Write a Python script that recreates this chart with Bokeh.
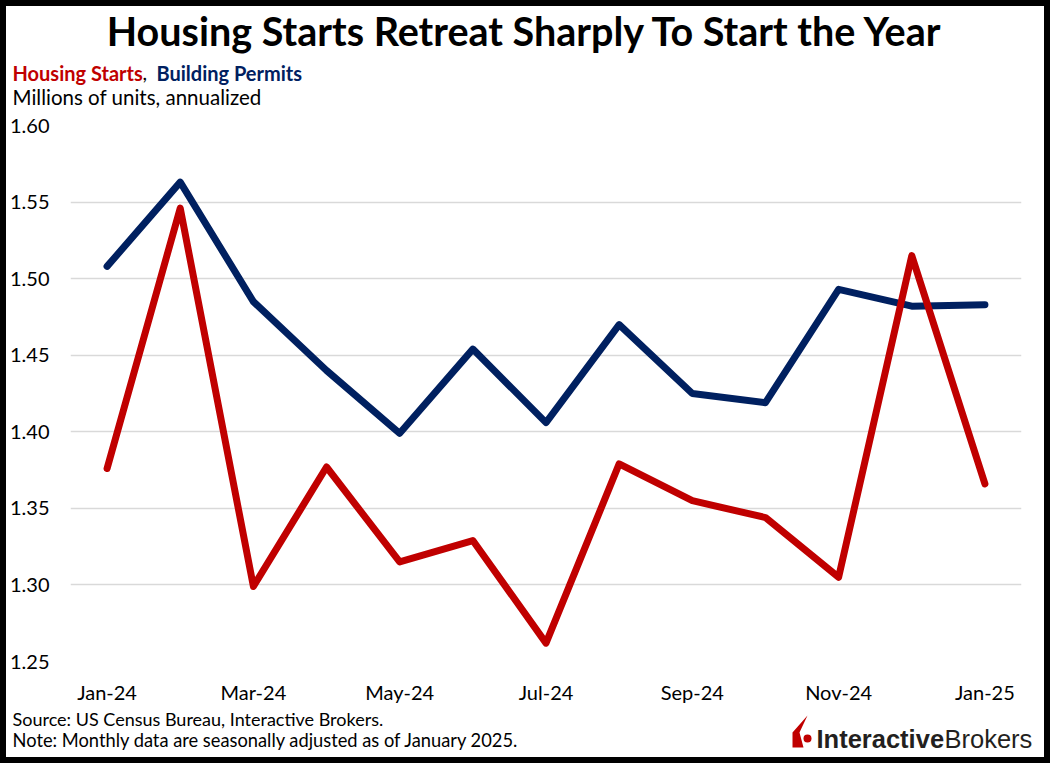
from bokeh.plotting import figure
from bokeh.models import FixedTicker, Range1d, CustomJSTickFormatter, Spacer
from bokeh.layouts import column, row
from bokeh.core.properties import value
from bokeh.embed import file_html
from bokeh.resources import INLINE

months = ["Jan-24", "Feb-24", "Mar-24", "Apr-24", "May-24", "Jun-24", "Jul-24",
          "Aug-24", "Sep-24", "Oct-24", "Nov-24", "Dec-24", "Jan-25"]
housing_starts = [1.376, 1.546, 1.299, 1.377, 1.315, 1.329, 1.262,
                  1.379, 1.355, 1.344, 1.305, 1.515, 1.366]
building_permits = [1.508, 1.563, 1.485, 1.440, 1.399, 1.454, 1.406,
                    1.470, 1.425, 1.419, 1.493, 1.482, 1.483]
y_ticks = [1.25, 1.30, 1.35, 1.40, 1.45, 1.50, 1.55, 1.60]
x_tick_labels = ["Jan-24", "Mar-24", "May-24", "Jul-24", "Sep-24", "Nov-24", "Jan-25"]

title = "Housing Starts Retreat Sharply To Start the Year"
series_names = ["Housing Starts", "Building Permits"]
unit_note = "Millions of units, annualized"
source_note = "Source: US Census Bureau, Interactive Brokers."
data_note = "Note: Monthly data are seasonally adjusted as of January 2025."

RED = "#C00000"
NAVY = "#002060"
FONT = "Lato"
LOGO_FONT = "Liberation Sans"
K = {FONT: 0.387, LOGO_FONT: 0.347}   # baseline correction factor per font
B = 6            # outer black border
W, H = 1050, 763
IW = W - 2 * B
HEAD_BOTTOM = 112
MAIN_BOTTOM = 706
FL, FR, FT, FB = 68, 1021, 125, 661


def blank(height, y0, y1):
    f = figure(width=IW, height=height, output_backend="svg", toolbar_location=None,
               x_range=Range1d(B, W - B), y_range=Range1d(y1, y0),
               min_border=0, min_border_left=0, min_border_right=0,
               min_border_top=0, min_border_bottom=0,
               x_axis_type=None, y_axis_type=None, frame_align=False)
    f.outline_line_color = None
    f.grid.visible = False
    f.background_fill_color = "white"
    f.border_fill_color = "white"
    return f


def txt(f, s, x, y, size, color="black", style="normal", align="left", font=FONT):
    px = float(size.replace("px", ""))
    f.text(x=[x], y=[y - K[font] * px], text=[s], text_font=value(font),
           text_font_size=value(size), text_color=color, text_font_style=style,
           text_align=align, text_baseline="alphabetic")


# ---------- header ----------
head = blank(HEAD_BOTTOM - B, B, HEAD_BOTTOM)
txt(head, title, 525, 45, "39.5px", style="bold", align="center")
txt(head, series_names[0], 12, 80, "20px", color=RED, style="bold")
txt(head, ",", 142, 80, "20px")
txt(head, series_names[1], 156, 80, "20px", color=NAVY, style="bold")
txt(head, unit_note, 12, 104, "20.5px")

# ---------- main chart ----------
x = list(range(len(months)))
p = figure(width=IW, height=MAIN_BOTTOM - HEAD_BOTTOM, output_backend="svg",
           toolbar_location=None, frame_align=False,
           x_range=Range1d(-0.5, 12.5), y_range=Range1d(1.25, 1.60),
           min_border_left=FL - B, min_border_right=W - B - FR,
           min_border_top=FT - HEAD_BOTTOM, min_border_bottom=MAIN_BOTTOM - FB)
p.outline_line_color = None
p.background_fill_color = "white"
p.border_fill_color = "white"
p.xgrid.grid_line_color = None
p.ygrid.grid_line_color = "#D9D9D9"
p.ygrid.grid_line_width = 1.5

p.yaxis.ticker = FixedTicker(ticks=y_ticks)
p.yaxis.formatter = CustomJSTickFormatter(code="return tick.toFixed(2);")
p.xaxis.ticker = FixedTicker(ticks=[months.index(m) for m in x_tick_labels])
p.xaxis.major_label_overrides = {months.index(m): m for m in x_tick_labels}
for ax in (p.xaxis, p.yaxis):
    ax.axis_line_color = None
    ax.major_tick_line_color = None
    ax.minor_tick_line_color = None
    ax.major_tick_out = 0
    ax.major_tick_in = 0
    ax.minor_tick_out = 0
    ax.minor_tick_in = 0
    ax.major_label_text_font = FONT
    ax.major_label_text_font_size = "20px"
    ax.major_label_text_color = "black"
p.yaxis.major_label_standoff = 21
p.xaxis.major_label_standoff = 18

p.line(x, building_permits, line_color=NAVY, line_width=7, line_join="round", line_cap="round")
p.line(x, housing_starts, line_color=RED, line_width=7, line_join="round", line_cap="round")

# ---------- footer ----------
foot = blank(H - B - MAIN_BOTTOM, MAIN_BOTTOM, H - B)
txt(foot, source_note, 12, 725, "18px")
txt(foot, data_note, 12, 747, "18.3px")
txt(foot, "Interactive", 816, 747, "25.5px", color="#231F20", style="bold", font=LOGO_FONT)
txt(foot, "Brokers", 944, 747, "25.5px", color="#231F20", font=LOGO_FONT)
foot.patch([792, 792, 807, 799, 803, 792], [747, 732, 715, 732, 747, 747],
           fill_color=RED, line_color=None)
foot.scatter([807], [738], size=8, fill_color=RED, line_color=None)

bar_h = Spacer(width=W, height=B, styles={"background-color": "black"})
bar_h2 = Spacer(width=W, height=B, styles={"background-color": "black"})
bar_v = Spacer(width=B, height=H - 2 * B, styles={"background-color": "black"})
bar_v2 = Spacer(width=B, height=H - 2 * B, styles={"background-color": "black"})

layout = column(bar_h, row(bar_v, column(head, p, foot, spacing=0), bar_v2, spacing=0),
                bar_h2, spacing=0)

open("out.html", "w").write(file_html(layout, INLINE))
